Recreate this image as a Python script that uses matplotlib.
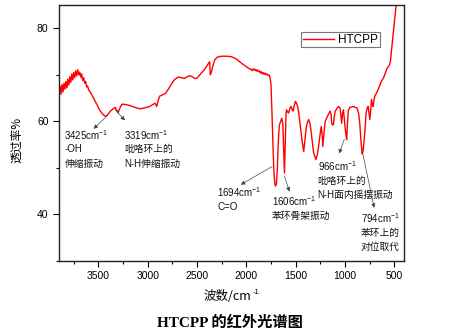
import matplotlib
matplotlib.use("Agg")
import matplotlib.pyplot as plt
from matplotlib.ticker import MultipleLocator

plt.rcParams['font.family'] = ['Liberation Sans', 'Noto Sans CJK SC']
plt.rcParams['mathtext.fontset'] = 'custom'
plt.rcParams['mathtext.rm'] = 'Liberation Sans'
plt.rcParams['mathtext.default'] = 'regular'

# spectrum: wavenumber (cm-1) and transmittance (%)
wavenumber = [
    3900, 3890, 3880, 3870, 3860, 3850, 3840, 3830, 3820, 3810, 3800, 3790, 3780,
    3770, 3760, 3750, 3740, 3730, 3720, 3710, 3700, 3690, 3680, 3670, 3660, 3650,
    3640, 3630, 3620, 3610, 3600, 3580, 3550, 3520, 3490, 3460, 3432, 3410, 3380,
    3350, 3330, 3315, 3300, 3280, 3260, 3220, 3180, 3130, 3080, 3030, 2980, 2940,
    2925, 2910, 2895, 2880, 2850, 2820, 2795, 2760, 2728, 2690, 2660, 2630, 2600,
    2577, 2550, 2520, 2500, 2460, 2426, 2400, 2380, 2372, 2365, 2355, 2345, 2320,
    2295, 2250, 2200, 2150, 2100, 2073, 2030, 1990, 1960, 1950, 1940, 1930, 1920,
    1910, 1900, 1890, 1880, 1870, 1860, 1850, 1840, 1830, 1820, 1810, 1800, 1790,
    1780, 1770, 1760, 1750, 1740, 1730, 1720, 1710, 1704, 1695, 1685, 1675, 1665,
    1655, 1640, 1630, 1620, 1613, 1605, 1598, 1593, 1580, 1570, 1558, 1546, 1535,
    1526, 1512, 1502, 1494, 1486, 1478, 1469, 1455, 1436, 1418, 1405, 1391, 1380,
    1368, 1355, 1345, 1330, 1318, 1295, 1280, 1267, 1250, 1240, 1230, 1224, 1212,
    1200, 1177, 1160, 1150, 1140, 1133, 1125, 1116, 1108, 1099, 1080, 1066, 1049,
    1040, 1033, 1025, 1016, 1008, 999, 990, 982, 974, 966, 950, 930, 912, 895, 878,
    862, 850, 838, 825, 815, 805, 795, 785, 775, 764, 755, 747, 738, 731, 720, 714,
    705, 697, 680, 663, 645, 630, 610, 596, 580, 570, 555, 546, 538, 530, 520, 513,
    505, 496, 488, 480, 470,
]
transmittance = [
    66.5, 67.6, 65.8, 67.9, 66.3, 68.2, 66.9, 68.6, 67.2, 69.1, 67.8, 69.6, 68.4,
    70.2, 68.9, 70.5, 69.4, 70.9, 69.8, 71.1, 70.0, 70.6, 69.5, 70.2, 68.8, 69.4,
    68.2, 68.6, 67.4, 67.6, 66.8, 66.2, 65.0, 63.8, 62.5, 61.6, 61.1, 61.3, 62.2,
    62.7, 63.0, 62.4, 61.9, 63.0, 63.7, 63.6, 63.4, 63.0, 62.7, 62.9, 63.2, 63.7,
    63.9, 63.2, 64.4, 65.4, 65.7, 66.0, 66.8, 68.0, 69.0, 69.5, 69.4, 69.2, 69.6,
    69.8, 69.6, 69.2, 69.3, 70.3, 71.1, 71.9, 72.6, 72.8, 70.0, 70.5, 71.5, 73.2,
    73.8, 74.0, 74.0, 73.9, 73.4, 72.9, 72.2, 71.6, 71.2, 71.2, 70.9, 71.3, 71.0,
    71.2, 70.8, 71.1, 70.7, 70.9, 70.4, 70.7, 70.2, 70.5, 70.1, 70.4, 70.0, 70.2,
    69.9, 70.0, 69.4, 68.0, 62.0, 55.0, 49.0, 46.5, 46.1, 46.5, 50.0, 56.0, 59.2,
    59.8, 60.7, 59.5, 53.0, 48.9, 55.0, 61.0, 62.5, 62.0, 61.8, 62.8, 63.2, 62.6,
    62.2, 63.6, 64.3, 64.0, 63.6, 63.0, 61.8, 59.5, 56.1, 53.5, 56.0, 58.9, 59.8,
    60.4, 59.6, 58.2, 55.5, 53.3, 51.8, 52.8, 54.6, 57.5, 58.9, 57.0, 54.6, 57.5,
    60.0, 61.1, 61.8, 62.2, 61.5, 59.6, 59.2, 59.3, 61.0, 62.2, 62.8, 63.2, 62.9,
    61.0, 59.6, 61.5, 62.5, 61.0, 58.9, 57.2, 56.1, 59.5, 62.3, 63.0, 63.1, 63.2,
    63.0, 62.9, 61.8, 59.8, 56.0, 53.0, 53.8, 56.0, 58.5, 61.8, 62.8, 63.2, 61.8,
    60.4, 62.5, 64.7, 63.6, 63.2, 64.5, 65.4, 66.1, 66.8, 67.8, 68.6, 69.3, 70.0,
    71.0, 71.5, 71.9, 72.2, 73.0, 74.7, 76.8, 78.3, 80.1, 81.9, 83.5, 85.1, 87.0,
]

series_name = 'HTCPP'
x_ticks = [3500, 3000, 2500, 2000, 1500, 1000, 500]
y_ticks = [40, 60, 80]

# peak labels: (text lines, arrow tail on the curve, arrow head, text x, first line y)
peak_labels = [
    (['3425cm$^{-1}$', '-OH', '伸缩振动'], (3415, 61.1), (3550, 58.4), 3845, 57.1),
    (['3319cm$^{-1}$', '吡咯环上的', 'N-H伸缩振动'], (3332, 62.5), (3231, 60.2), 3241, 57.1),
    (['1694cm$^{-1}$', 'C=O'], (1738, 50.3), (2056, 46.4), 2295, 44.7),
    (['1606cm$^{-1}$', '苯环骨架振动'], (1613, 48.2), (1562, 44.9), 1738, 42.8),
    (['966cm$^{-1}$', '吡咯环上的', 'N-H面内摇摆振动'], (1006, 56.1), (1059, 53.1), 1277, 50.3),
    (['794cm$^{-1}$', '苯环上的', '对位取代'], (821, 53.3), (703, 41.4), 837, 39.2),
]

fig = plt.figure(figsize=(4.54, 3.35), dpi=100)
ax = fig.add_axes([0.130, 0.221, 0.760, 0.764])

ax.plot(wavenumber, transmittance, color='red', lw=1.0, label=series_name)

ax.set_xlim(3900, 400)
ax.set_ylim(30, 85)
ax.set_xticks(x_ticks)
ax.set_yticks(y_ticks)
ax.xaxis.set_minor_locator(MultipleLocator(250))
ax.yaxis.set_minor_locator(MultipleLocator(10))
ax.tick_params(which='both', direction='out', top=False, right=False,
               labelsize=7.5, width=0.8, pad=3)
ax.tick_params(which='major', length=4.5)
ax.tick_params(which='minor', length=2.5)
for s in ax.spines.values():
    s.set_linewidth(1.0)
    s.set_color('#222222')

line_step = 3.1
for lines, tail, head, tx, ty in peak_labels:
    ax.annotate('', xy=head, xytext=tail,
                arrowprops=dict(arrowstyle='-|>', color='#444444', lw=0.5,
                                mutation_scale=6, shrinkA=0, shrinkB=0))
    for i, t in enumerate(lines):
        ax.text(tx, ty - i * line_step, t, fontsize=7, va='center', ha='left',
                color='#111111')

leg = ax.legend(loc='upper right', bbox_to_anchor=(0.93, 0.895), fontsize=8.5,
                frameon=True, fancybox=False, handlelength=2.6, borderaxespad=0,
                borderpad=0.15, handletextpad=0.4)
leg.get_frame().set_edgecolor('#555555')
leg.get_frame().set_linewidth(0.8)

fig.text(0.038, 0.582, '透过率%', rotation=90, fontsize=8.5, ha='center', va='center',
         family=['Noto Sans CJK SC', 'Liberation Sans'])
# x label: plain text plus a small superscript so the CJK glyphs stay normal size
xl = fig.text(0.500, 0.116, '波数/cm', fontsize=9, ha='center', va='center',
              family=['Noto Sans CJK SC', 'Liberation Sans'])
fig.texts.append(matplotlib.text.Annotation(
    '-1', xy=(1.0, 0.8), xycoords=xl, xytext=(1.0, 0), textcoords='offset points',
    fontsize=5.5, ha='left', va='center'))
fig.texts[-1].set_figure(fig)
fig.text(0.507, 0.036, 'HTCPP 的红外光谱图', fontsize=11, ha='center', va='center',
         fontweight='bold', family=['Liberation Serif', 'Noto Sans CJK SC'])

fig.savefig('out.png', dpi=100)
